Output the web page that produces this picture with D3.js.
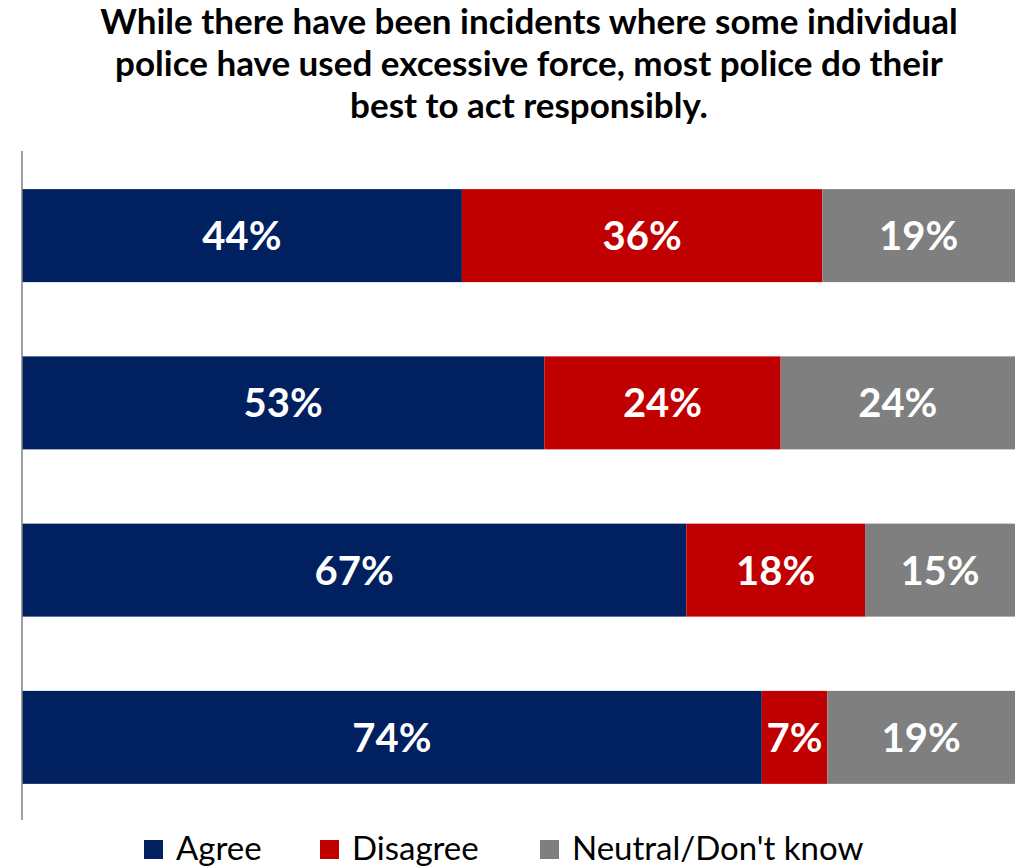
<!DOCTYPE html>
<html><head><meta charset="utf-8">
<script src="https://cdn.jsdelivr.net/npm/d3@7"></script>
<style>body{margin:0;background:#fff}svg{display:block}</style>
</head><body>
<script>
const titleLines = ["While there have been incidents where some individual","police have used excessive force, most police do their","best to act responsibly."];
const rows = ["Row 1","Row 2","Row 3","Row 4"];
const seriesNames = ["Agree","Disagree","Neutral/Don't know"];
const agree = [44.3, 52.6, 66.9, 74.5];
const disagree = [36.3, 23.8, 18.0, 6.6];
const neutral = [19.4, 23.6, 15.1, 18.9];
const labelsAgree = ["44%","53%","67%","74%"];
const labelsDisagree = ["36%","24%","18%","7%"];
const labelsNeutral = ["19%","24%","15%","19%"];
const colors = ["#002060","#C00000","#7F7F7F"];

const W=1025,H=868;
const svg=d3.select("body").append("svg").attr("width",W).attr("height",H);
const font="Lato, 'Open Sans', sans-serif";

const data = rows.map((r,i)=>({row:r, Agree:agree[i], Disagree:disagree[i], "Neutral/Don't know":neutral[i],
  labels:[labelsAgree[i],labelsDisagree[i],labelsNeutral[i]]}));
const stack = d3.stack().keys(seriesNames).offset(d3.stackOffsetExpand);
const series = stack(data);

const x = d3.scaleLinear().domain([0,1]).range([22,1015]);
const y = d3.scaleBand().domain(rows).range([152,821]).paddingInner(0.444).paddingOuter(0.222);

// title
svg.append("g").selectAll("text").data(titleLines).join("text")
  .attr("x",529).attr("y",(d,i)=>34+i*42).attr("text-anchor","middle")
  .attr("font-family",font).attr("font-weight","bold").attr("font-size",35).attr("fill","#000").text(d=>d);

// bars
series.forEach((s,si)=>{
  const g=svg.append("g");
  g.selectAll("rect").data(s).join("rect")
    .attr("x",d=>x(d[0])).attr("width",d=>x(d[1])-x(d[0]))
    .attr("y",d=>y(d.data.row)).attr("height",y.bandwidth())
    .attr("fill",colors[si]);
  g.selectAll("text").data(s).join("text")
    .attr("x",d=>(x(d[0])+x(d[1]))/2).attr("y",d=>y(d.data.row)+y.bandwidth()/2)
    .attr("dy","0.36em").attr("text-anchor","middle")
    .attr("font-family",font).attr("font-weight","bold").attr("font-size",40).attr("fill","#fff")
    .text(d=>d.data.labels[si]);
});

// axis
svg.append("g").attr("transform","translate(22,0)")
  .call(d3.axisLeft(y).tickSize(0).tickFormat(""))
  .call(g=>g.select(".domain").attr("stroke","#808080").attr("stroke-width",1.5).attr("d","M0,151V820"));

// legend
const legX=[144,320,540];
const lg=svg.append("g");
seriesNames.forEach((n,i)=>{
  lg.append("rect").attr("x",legX[i]).attr("y",840).attr("width",19).attr("height",19).attr("fill",colors[i]);
  lg.append("text").attr("x",legX[i]+32).attr("y",860).attr("font-family",font).attr("font-size",33).attr("fill","#000").text(n);
});
</script>
</body></html>
